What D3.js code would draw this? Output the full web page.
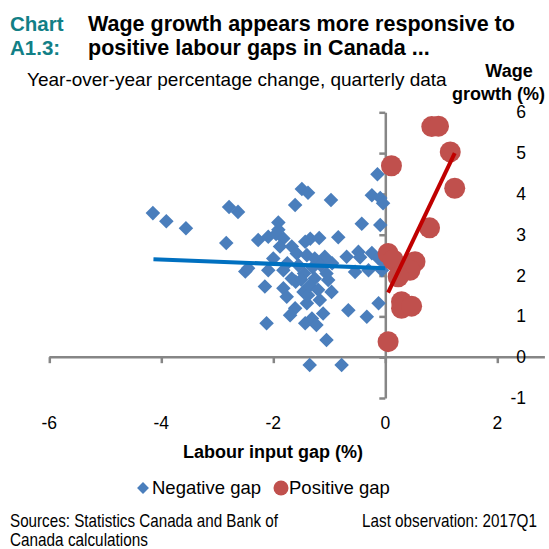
<!DOCTYPE html>
<html>
<head>
<meta charset="utf-8">
<script src="https://cdn.jsdelivr.net/npm/d3@7"></script>
<style>
	body { margin: 0; background: #fff; }
	svg { display: block; font-family: "Liberation Sans", Arial, sans-serif; }
	.axis path, .axis line { stroke: #868686; stroke-width: 2.5; }
	.foot { font-size: 18px; }
</style>
</head>
<body>
<div id="chart"></div>
<script>
// negative labour gap quarters: [gap, wage growth]
let negGap = [
	[-4.15, 3.53], [-3.91, 3.33], [-3.56, 3.16], [-2.79, 3.68], [-2.63, 3.56], [-2.84, 2.80],
	[-2.50, 2.10], [-2.45, 2.18], [-2.27, 2.87], [-2.12, 0.83], [-2.15, 1.73], [-2.09, 2.13],
	[-2.09, 2.95], [-1.49, 4.12], [-1.38, 4.03], [-1.61, 3.73], [-0.97, 3.85], [-1.91, 3.30],
	[-1.91, 3.12], [-1.95, 3.02], [-1.34, 2.90], [-1.18, 2.92], [-0.84, 2.94], [-1.82, 2.91],
	[-1.43, 2.83], [-1.67, 2.71], [-1.88, 2.71], [-2.00, 2.42], [-1.58, 2.54], [-1.40, 2.50],
	[-0.14, 4.48], [-0.24, 3.97], [-0.09, 3.90], [-0.04, 3.77], [-0.42, 3.27], [-0.09, 3.24],
	[-0.69, 2.46], [-0.48, 2.58], [-0.24, 2.55], [-1.08, 2.46], [-1.26, 2.42], [-0.12, 2.42],
	[-0.54, 2.09], [-0.30, 2.13], [-0.06, 2.13], [-1.82, 2.13], [-1.67, 1.93], [-1.26, 1.93],
	[-1.02, 1.89], [-1.82, 1.69], [-1.76, 1.48], [-1.61, 1.20], [-1.70, 1.03], [-1.43, 0.83],
	[-1.40, 1.32], [-1.46, 1.60], [-0.96, 1.60], [-1.38, 1.52], [-1.17, 1.40], [-1.11, 1.07],
	[-1.31, 0.95], [-1.23, 0.79], [-1.05, 0.42], [-0.66, 1.15], [-0.33, 0.99], [-0.12, 1.32],
	[-1.35, -0.19], [-0.78, -0.19], [-1.75, 2.30], [-1.55, 2.25], [-1.45, 2.05], [-1.30, 2.20],
	[-1.15, 2.25], [-1.60, 1.85], [-1.35, 1.75], [-1.20, 1.65], [-1.50, 1.90], [-1.05, 2.05],
	[-0.95, 2.30], [-0.45, 2.45], [-0.02, 2.30]
];
// positive labour gap quarters
let posGap = [
	[0.83, 5.65], [0.95, 5.66], [1.16, 5.03], [1.24, 4.14], [0.11, 4.69], [0.79, 3.17],
	[0.05, 2.54], [0.14, 2.38], [0.53, 2.34], [0.44, 2.13], [0.23, 1.97], [0.29, 1.36],
	[0.29, 1.20], [0.47, 1.25], [0.05, 0.38]
];
// fitted lines: start and end points
let negFit = [[-4.14, 2.40], [0, 2.18]];
let posFit = [[0.05, 1.58], [1.24, 5.00]];

let xTicks = [-6, -4, -2, 0, 2];
let yTicks = [-1, 0, 1, 2, 3, 4, 5, 6];

let svg = d3.select("#chart").append("svg")
	.attr("width", 549)
	.attr("height", 549);

//scales
let x = d3.scaleLinear().domain([-6, 2]).range([49.3, 497.3]);
let y = d3.scaleLinear().domain([-1, 6]).range([398, 112.3]);

//title block
let teal = "#127f86";
svg.append("text").attr("x", 10).attr("y", 31).attr("fill", teal)
	.attr("font-size", 20.5).attr("font-weight", "bold").text("Chart");
svg.append("text").attr("x", 10).attr("y", 55).attr("fill", teal)
	.attr("font-size", 20.5).attr("font-weight", "bold").text("A1.3:");
svg.append("text").attr("x", 88).attr("y", 31)
	.attr("font-size", 21.5).attr("font-weight", "bold").text("Wage growth appears more responsive to");
svg.append("text").attr("x", 88).attr("y", 55)
	.attr("font-size", 21.5).attr("font-weight", "bold").text("positive labour gaps in Canada ...");
svg.append("text").attr("x", 27).attr("y", 86)
	.attr("font-size", 19).text("Year-over-year percentage change, quarterly data");
svg.append("text").attr("x", 509).attr("y", 77).attr("text-anchor", "middle")
	.attr("font-size", 18).attr("font-weight", "bold").text("Wage");
svg.append("text").attr("x", 545).attr("y", 100).attr("text-anchor", "end")
	.attr("font-size", 18).attr("font-weight", "bold").text("growth (%)");

//x axis along zero line, labels at the bottom
svg.append("g")
	.attr("class", "axis")
	.attr("transform", `translate(0, ${y(0)})`)
	.call(d3.axisBottom(x).tickValues(xTicks).tickSize(6).tickSizeOuter(0).tickFormat(""))
	.call(g => g.select(".domain").attr("d", `M${x(-6)},0H${x(2.85)}`));
svg.selectAll(".xlab")
	.data(xTicks)
	.enter()
	.append("text")
	.attr("x", d => x(d))
	.attr("y", 429)
	.attr("text-anchor", "middle")
	.attr("font-size", 17.5)
	.text(d => d);

//y axis along zero gap, labels at the right
svg.append("g")
	.attr("class", "axis")
	.attr("transform", `translate(${x(0)}, 0)`)
	.call(d3.axisLeft(y).tickValues(yTicks).tickSize(6).tickSizeOuter(0).tickFormat(""));
svg.selectAll(".ylab")
	.data(yTicks)
	.enter()
	.append("text")
	.attr("x", 526)
	.attr("y", d => y(d))
	.attr("dy", "0.35em")
	.attr("text-anchor", "end")
	.attr("font-size", 17.5)
	.text(d => d);

svg.append("text").attr("x", 273).attr("y", 458).attr("text-anchor", "middle")
	.attr("font-size", 18).attr("font-weight", "bold").text("Labour input gap (%)");

//points
let diamond = d3.symbol().type(d3.symbolDiamond2).size(135);
svg.append("g").selectAll("path")
	.data(negGap)
	.enter()
	.append("path")
	.attr("d", diamond)
	.attr("transform", d => `translate(${x(d[0])}, ${y(d[1])})`)
	.attr("fill", "#4a7ebc");

let line = d3.line().x(d => x(d[0])).y(d => y(d[1]));
svg.append("path").attr("d", line(negFit))
	.attr("stroke", "#0070c0").attr("stroke-width", 4).attr("fill", "none");

svg.append("g").selectAll("circle")
	.data(posGap)
	.enter()
	.append("circle")
	.attr("cx", d => x(d[0]))
	.attr("cy", d => y(d[1]))
	.attr("r", 10.5)
	.attr("fill", "#c0504d");

svg.append("path").attr("d", line(posFit))
	.attr("stroke", "#c00000").attr("stroke-width", 4).attr("fill", "none");

//legend
let leg = svg.append("g").attr("transform", "translate(0, 488)");
leg.append("path").attr("d", d3.symbol().type(d3.symbolDiamond2).size(90))
	.attr("transform", "translate(143, 0)").attr("fill", "#4a7ebc");
leg.append("text").attr("x", 152).attr("dy", "0.35em").attr("font-size", 18.5).text("Negative gap");
leg.append("circle").attr("cx", 281).attr("r", 7.5).attr("fill", "#c0504d");
leg.append("text").attr("x", 289).attr("dy", "0.35em").attr("font-size", 18.5).text("Positive gap");

//footer, squeezed horizontally like a narrow font
let footText = function(str, px, py, w) {
	let t = svg.append("text").attr("class", "foot").text(str);
	let k = w / t.node().getComputedTextLength();
	t.attr("transform", `translate(${px}, ${py}) scale(${k}, 1)`);
	return t;
};
footText("Sources: Statistics Canada and Bank of", 10, 527, 268);
footText("Canada calculations", 10, 546, 138);
footText("Last observation: 2017Q1", 362, 527, 175);
</script>
</body>
</html>
